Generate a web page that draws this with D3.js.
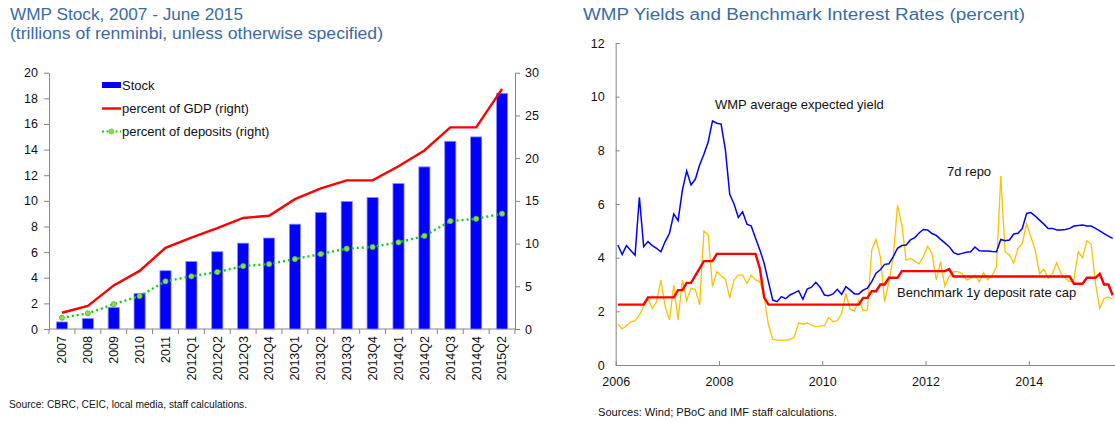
<!DOCTYPE html>
<html>
<head>
<meta charset="utf-8">
<script src="https://cdn.jsdelivr.net/npm/d3@7"></script>
<style>
  body { margin: 0; background: #fff; }
  svg { font-family: 'Liberation Sans', Arial, sans-serif; display: block; }
  .axis path, .axis line { stroke: #868686; }
  .axis text { fill: #111; font-size: 12.5px; font-family: 'Liberation Sans', Arial, sans-serif; }
  .title { fill: #3a6aa8; font-size: 17.3px; }
  .note { fill: #111; font-size: 13px; }
  .source { fill: #111; font-size: 10px; }
</style>
</head>
<body>
<svg width="1115" height="423"></svg>
<script>
'use strict';

// left panel: WMP stock
const categories = ['2007', '2008', '2009', '2010', '2011', '2012Q1', '2012Q2', '2012Q3', '2012Q4',
  '2013Q1', '2013Q2', '2013Q3', '2013Q4', '2014Q1', '2014Q2', '2014Q3', '2014Q4', '2015Q2'];
const stock = [0.55, 0.83, 1.69, 2.78, 4.55, 5.27, 6.03, 6.7, 7.1, 8.18, 9.09, 9.95, 10.26, 11.35, 12.65, 14.65, 14.99, 18.39];
const gdpPct = [1.9, 2.7, 5.1, 6.8, 9.5, 10.7, 11.8, 13.0, 13.25, 15.2, 16.45, 17.4, 17.4, 19.05, 20.9, 23.6, 23.6, 28.1];
const depositPct = [1.32, 1.83, 2.9, 3.86, 5.58, 6.16, 6.67, 7.37, 7.6, 8.19, 8.78, 9.4, 9.6, 10.14, 10.9, 12.63, 12.9, 13.5];
const leftTicks = [0, 2, 4, 6, 8, 10, 12, 14, 16, 18, 20];
const rightTicks = [0, 5, 10, 15, 20, 25, 30];

// right panel: monthly, Jan 2006 - Aug 2015
const startYear = 2006;
const wmpYield = [4.47, 4.12, 4.45, 4.27, 4.09, 6.25, 4.41, 4.6, 4.45, 4.35, 4.22, 4.6,
  4.91, 5.63, 5.38, 6.52, 7.23, 6.71, 6.92, 7.45, 7.85, 8.32, 9.1, 9.01,
  8.98, 8.01, 6.36, 6.0, 5.5, 5.71, 5.25, 5.18, 4.72, 4.29, 3.79, 3.1,
  2.42, 2.36, 2.55, 2.47, 2.61, 2.69, 2.77, 2.45, 2.83, 2.9, 3.08, 2.9,
  2.61, 2.58, 2.65, 2.82, 2.63, 2.92, 2.79, 2.65, 2.65, 2.79, 2.86, 3.11,
  3.42, 3.55, 3.75, 3.77, 4.04, 4.35, 4.45, 4.47, 4.66, 4.75, 4.92, 5.05,
  5.03, 4.9, 4.83, 4.68, 4.55, 4.41, 4.2, 4.12, 4.16, 4.2, 4.22, 4.4,
  4.26, 4.25, 4.25, 4.23, 4.22, 4.68, 4.63, 4.66, 4.88, 4.91, 5.09, 5.65,
  5.68, 5.55, 5.4, 5.25, 5.09, 5.09, 5.03, 5.03, 5.05, 5.09, 5.18, 5.2,
  5.22, 5.18, 5.18, 5.09, 5.0, 4.9, 4.8, 4.72];
const repo7d = [1.52, 1.35, 1.46, 1.61, 1.65, 1.86, 2.18, 2.46, 2.11, 2.36, 3.17, 2.18,
  1.68, 2.98, 1.67, 3.17, 2.4, 2.86, 2.82, 2.24, 4.99, 4.85, 2.92, 3.48,
  3.32, 3.2, 2.5, 3.17, 3.35, 3.35, 3.04, 3.35, 3.17, 3.11, 2.55, 1.5,
  0.95, 0.93, 0.93, 0.93, 0.95, 1.03, 1.57, 1.52, 1.57, 1.49, 1.42, 1.46,
  1.46, 1.77, 1.61, 1.65, 1.92, 2.67, 2.08, 2.01, 2.42, 2.03, 2.05, 4.29,
  4.68, 4.04, 2.36, 3.1, 4.0, 5.96, 5.22, 3.91, 3.97, 3.87, 3.77, 4.04,
  4.43, 4.16, 3.17, 3.85, 2.94, 3.29, 3.48, 3.48, 3.41, 3.17, 3.23, 3.35,
  3.1, 3.44, 3.17, 3.35, 3.66, 7.04, 4.22, 4.1, 3.79, 4.35, 4.54, 5.26,
  4.77, 4.29, 3.4, 3.57, 3.23, 3.41, 3.81, 3.41, 3.23, 3.1, 3.19, 4.22,
  4.0, 4.63, 4.51, 3.04, 2.11, 2.48, 2.54, 2.45];
const depositCap = [2.25, 2.25, 2.25, 2.25, 2.25, 2.25, 2.25, 2.52, 2.52, 2.52, 2.52, 2.52,
  2.52, 2.52, 2.79, 2.79, 3.06, 3.06, 3.33, 3.6, 3.87, 3.87, 3.87, 4.14,
  4.14, 4.14, 4.14, 4.14, 4.14, 4.14, 4.14, 4.14, 4.14, 3.6, 2.52, 2.25,
  2.25, 2.25, 2.25, 2.25, 2.25, 2.25, 2.25, 2.25, 2.25, 2.25, 2.25, 2.25,
  2.25, 2.25, 2.25, 2.25, 2.25, 2.25, 2.25, 2.25, 2.25, 2.5, 2.5, 2.75,
  2.75, 3.0, 3.0, 3.25, 3.25, 3.25, 3.5, 3.5, 3.5, 3.5, 3.5, 3.5,
  3.5, 3.5, 3.5, 3.5, 3.5, 3.575, 3.3, 3.3, 3.3, 3.3, 3.3, 3.3,
  3.3, 3.3, 3.3, 3.3, 3.3, 3.3, 3.3, 3.3, 3.3, 3.3, 3.3, 3.3,
  3.3, 3.3, 3.3, 3.3, 3.3, 3.3, 3.3, 3.3, 3.3, 3.3, 3.03, 3.03,
  3.03, 3.25, 3.25, 3.25, 3.4, 3.0, 3.0, 2.6];
const yearTicks = [2006, 2008, 2010, 2012, 2014];
const rateTicks = [0, 2, 4, 6, 8, 10, 12];

const svg = d3.select('svg');

// ---------- left panel ----------
const left = svg.append('g');

const x = d3.scaleBand()
  .domain(categories)
  .range([49, 515])
  .paddingInner(0.57)
  .paddingOuter(0.285);
const yL = d3.scaleLinear().domain([0, 20]).range([329, 72.7]);
const yR = d3.scaleLinear().domain([0, 30]).range([329, 72.7]);
const cx = d => x(d) + x.bandwidth() / 2;

left.append('text').attr('class', 'title').attr('x', 10).attr('y', 20)
  .attr('textLength', 233).attr('lengthAdjust', 'spacingAndGlyphs')
  .text('WMP Stock, 2007 - June 2015');
left.append('text').attr('class', 'title').attr('x', 10).attr('y', 39)
  .attr('textLength', 373).attr('lengthAdjust', 'spacingAndGlyphs')
  .text('(trillions of renminbi, unless otherwise specified)');

left.append('g')
  .attr('class', 'axis')
  .attr('transform', 'translate(49,0)')
  .call(d3.axisLeft(yL).tickValues(leftTicks).tickSize(5).tickSizeOuter(0).tickPadding(6));

left.append('g')
  .attr('class', 'axis')
  .attr('transform', 'translate(515,0)')
  .call(d3.axisRight(yR).tickValues(rightTicks).tickSize(5).tickSizeOuter(0).tickPadding(5));

// bottom axis with ticks between categories
const bottom = left.append('g').attr('class', 'axis');
bottom.append('line')
  .attr('x1', 49).attr('x2', 515).attr('y1', 329).attr('y2', 329);
bottom.selectAll('line.tick')
  .data(categories.concat(['end']))
  .enter().append('line')
    .attr('class', 'tick')
    .attr('x1', (d, i) => 49 + i * x.step())
    .attr('x2', (d, i) => 49 + i * x.step())
    .attr('y1', 329).attr('y2', 334);
bottom.selectAll('text')
  .data(categories)
  .enter().append('text')
    .attr('transform', d => `translate(${cx(d)},336) rotate(-90)`)
    .attr('text-anchor', 'end')
    .attr('dy', '0.35em')
    .text(d => d);

left.append('g')
  .selectAll('rect')
  .data(categories)
  .enter().append('rect')
    .attr('x', d => x(d))
    .attr('width', x.bandwidth())
    .attr('y', (d, i) => yL(stock[i]))
    .attr('height', (d, i) => yL(0) - yL(stock[i]))
    .attr('fill', '#0000ff')
    .attr('stroke', '#8c8cff')
    .attr('stroke-width', 0.8);

const lineL = d3.line().x(d => cx(d[0])).y(d => yR(d[1]));

left.append('path')
  .datum(categories.map((c, i) => [c, gdpPct[i]]))
  .attr('fill', 'none')
  .attr('stroke', '#ff0000')
  .attr('stroke-width', 2.4)
  .attr('d', lineL);

left.append('path')
  .datum(categories.map((c, i) => [c, depositPct[i]]))
  .attr('fill', 'none')
  .attr('stroke', '#11cc11')
  .attr('stroke-width', 2.4)
  .attr('stroke-dasharray', '2,3')
  .attr('d', lineL);

left.append('g')
  .selectAll('circle')
  .data(categories)
  .enter().append('circle')
    .attr('cx', d => cx(d))
    .attr('cy', (d, i) => yR(depositPct[i]))
    .attr('r', 2.6)
    .attr('fill', '#9ad64a')
    .attr('stroke', '#3fc23f')
    .attr('stroke-width', 0.8);

// legend
const legend = left.append('g');
legend.append('rect')
  .attr('x', 102).attr('y', 82).attr('width', 19).attr('height', 6)
  .attr('fill', '#0000ff');
legend.append('line')
  .attr('x1', 102).attr('x2', 121).attr('y1', 108.5).attr('y2', 108.5)
  .attr('stroke', '#ff0000').attr('stroke-width', 2.4);
legend.append('line')
  .attr('x1', 102).attr('x2', 121).attr('y1', 131.5).attr('y2', 131.5)
  .attr('stroke', '#11cc11').attr('stroke-width', 2).attr('stroke-dasharray', '2,2.5');
legend.append('circle')
  .attr('cx', 111.5).attr('cy', 131.5).attr('r', 2.4)
  .attr('fill', '#9ad64a').attr('stroke', '#3fc23f').attr('stroke-width', 0.8);
[['Stock', 85], ['percent of GDP (right)', 108.5], ['percent of deposits (right)', 131.5]]
  .forEach(([t, y]) => {
    legend.append('text').attr('class', 'note')
      .attr('x', 122).attr('y', y).attr('dy', '0.35em').text(t);
  });

left.append('text').attr('class', 'source').attr('x', 9).attr('y', 408)
  .attr('textLength', 238).attr('lengthAdjust', 'spacingAndGlyphs')
  .text('Source: CBRC, CEIC, local media, staff calculations.');

// ---------- right panel ----------
const right = svg.append('g');

const t = d3.scaleLinear().domain([2006, 2015.67]).range([615.7, 1115]);
const yRate = d3.scaleLinear().domain([0, 12]).range([365, 43]);
const monthTime = i => startYear + (i + 0.5) / 12;

right.append('text').attr('class', 'title').attr('x', 583).attr('y', 20)
  .attr('textLength', 442).attr('lengthAdjust', 'spacingAndGlyphs')
  .text('WMP Yields and Benchmark Interest Rates (percent)');

right.append('g')
  .attr('class', 'axis')
  .attr('transform', 'translate(615.7,0)')
  .call(d3.axisLeft(yRate).tickValues(rateTicks).tickSize(-4).tickSizeOuter(0).tickPadding(11));

right.append('g')
  .attr('class', 'axis')
  .attr('transform', 'translate(0,365)')
  .call(d3.axisBottom(t).tickValues(yearTicks).tickFormat(d3.format('d')).tickSize(-4).tickSizeOuter(0).tickPadding(12));

const lineR = d3.line().x((d, i) => t(monthTime(i))).y(d => yRate(d));

right.append('path')
  .datum(repo7d)
  .attr('fill', 'none')
  .attr('stroke', '#ffc000')
  .attr('stroke-width', 1.3)
  .attr('d', lineR);

right.append('path')
  .datum(wmpYield)
  .attr('fill', 'none')
  .attr('stroke', '#0000ff')
  .attr('stroke-width', 1.5)
  .attr('d', lineR);

right.append('path')
  .datum(depositCap)
  .attr('fill', 'none')
  .attr('stroke', '#ff0000')
  .attr('stroke-width', 2.4)
  .attr('d', lineR);

right.append('text').attr('class', 'note').attr('x', 715).attr('y', 104).attr('dy', '0.35em')
  .text('WMP average expected yield');
right.append('text').attr('class', 'note').attr('x', 947).attr('y', 171).attr('dy', '0.35em')
  .text('7d repo');
right.append('text').attr('class', 'note').attr('x', 897).attr('y', 292).attr('dy', '0.35em')
  .text('Benchmark 1y deposit rate cap');

right.append('text').attr('class', 'source').attr('x', 598).attr('y', 416)
  .attr('textLength', 239).attr('lengthAdjust', 'spacingAndGlyphs')
  .text('Sources: Wind; PBoC and IMF staff calculations.');
</script>
</body>
</html>
